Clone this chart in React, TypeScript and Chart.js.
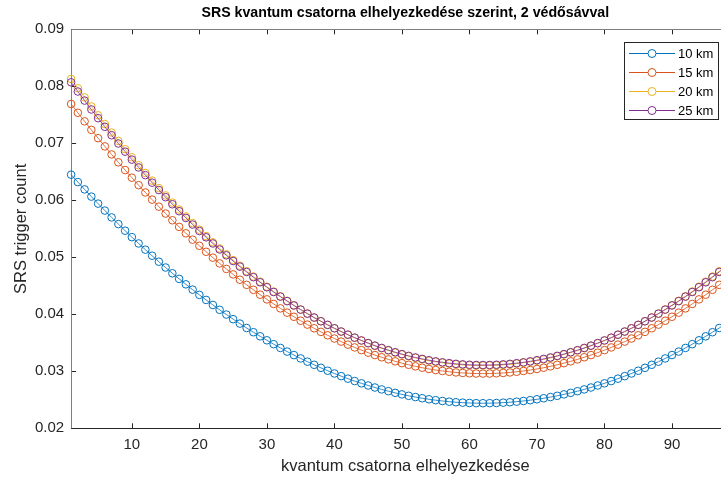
import { useEffect, useRef } from "react";
import { Chart, registerables } from "chart.js";

Chart.register(...registerables);

const TITLE = "SRS kvantum csatorna elhelyezkedése szerint, 2 védősávval";
const X_LABEL = "kvantum csatorna elhelyezkedése";
const Y_LABEL = "SRS trigger count";

const CHANNELS: number[] = Array.from({ length: 100 }, (_, i) => i + 1);
const X_TICKS = [10, 20, 30, 40, 50, 60, 70, 80, 90, 100];
const Y_TICKS = [0.02, 0.03, 0.04, 0.05, 0.06, 0.07, 0.08, 0.09];

const SERIES_NAMES = ["10 km", "15 km", "20 km", "25 km"];
const SERIES_COLORS = ["#0072BD", "#D95319", "#EDB120", "#7E2F8E"];

const KM10 = [
  0.0645, 0.0632, 0.06192, 0.06065, 0.05942, 0.0582, 0.057, 0.05583, 0.05467, 0.05354,
  0.05243, 0.05134, 0.05028, 0.04923, 0.04821, 0.0472, 0.04622, 0.04526, 0.04433, 0.04341,
  0.04252, 0.04164, 0.04079, 0.03996, 0.03915, 0.03837, 0.0376, 0.03686, 0.03614, 0.03544,
  0.03476, 0.0341, 0.03346, 0.03285, 0.03226, 0.03169, 0.03114, 0.03061, 0.0301, 0.02962,
  0.02915, 0.02871, 0.02829, 0.02789, 0.02751, 0.02716, 0.02682, 0.02651, 0.02622, 0.02595,
  0.0257, 0.02548, 0.02527, 0.02509, 0.02493, 0.02479, 0.02467, 0.02457, 0.0245, 0.02444,
  0.02441, 0.0244, 0.02441, 0.02444, 0.0245, 0.02457, 0.02467, 0.02479, 0.02493, 0.02509,
  0.02527, 0.02548, 0.0257, 0.02595, 0.02622, 0.02651, 0.02682, 0.02716, 0.02751, 0.02789,
  0.02829, 0.02871, 0.02915, 0.02962, 0.0301, 0.03061, 0.03114, 0.03169, 0.03226, 0.03285,
  0.03346, 0.0341, 0.03476, 0.03544, 0.03614, 0.03686, 0.0376, 0.03837, 0.03915, 0.03996,
];

const KM15 = [
  0.0769, 0.07536, 0.07385, 0.07236, 0.0709, 0.06946, 0.06805, 0.06667, 0.06531, 0.06397,
  0.06266, 0.06138, 0.06012, 0.05889, 0.05768, 0.0565, 0.05534, 0.05421, 0.0531, 0.05202,
  0.05097, 0.04994, 0.04893, 0.04796, 0.047, 0.04607, 0.04517, 0.0443, 0.04344, 0.04262,
  0.04182, 0.04104, 0.04029, 0.03957, 0.03887, 0.03819, 0.03755, 0.03692, 0.03632, 0.03575,
  0.03521, 0.03468, 0.03419, 0.03372, 0.03327, 0.03285, 0.03246, 0.03209, 0.03175, 0.03143,
  0.03114, 0.03087, 0.03063, 0.03041, 0.03022, 0.03006, 0.02992, 0.0298, 0.02971, 0.02965,
  0.02961, 0.0296, 0.02961, 0.02965, 0.02971, 0.0298, 0.02992, 0.03006, 0.03022, 0.03041,
  0.03063, 0.03087, 0.03114, 0.03143, 0.03175, 0.03209, 0.03246, 0.03285, 0.03327, 0.03372,
  0.03419, 0.03468, 0.03521, 0.03575, 0.03632, 0.03692, 0.03755, 0.03819, 0.03887, 0.03957,
  0.04029, 0.04104, 0.04182, 0.04262, 0.04344, 0.0443, 0.04517, 0.04607, 0.047, 0.04796,
];

const KM20 = [
  0.0813, 0.07966, 0.07806, 0.07647, 0.07492, 0.07339, 0.07189, 0.07042, 0.06897, 0.06755,
  0.06616, 0.0648, 0.06346, 0.06215, 0.06086, 0.0596, 0.05837, 0.05717, 0.056, 0.05485,
  0.05372, 0.05263, 0.05156, 0.05052, 0.04951, 0.04852, 0.04756, 0.04663, 0.04572, 0.04484,
  0.04399, 0.04317, 0.04237, 0.0416, 0.04085, 0.04014, 0.03945, 0.03879, 0.03815, 0.03754,
  0.03696, 0.03641, 0.03588, 0.03538, 0.03491, 0.03446, 0.03404, 0.03365, 0.03328, 0.03295,
  0.03264, 0.03235, 0.03209, 0.03186, 0.03166, 0.03149, 0.03134, 0.03122, 0.03112, 0.03105,
  0.03101, 0.031, 0.03101, 0.03105, 0.03112, 0.03122, 0.03134, 0.03149, 0.03166, 0.03186,
  0.03209, 0.03235, 0.03264, 0.03295, 0.03328, 0.03365, 0.03404, 0.03446, 0.03491, 0.03538,
  0.03588, 0.03641, 0.03696, 0.03754, 0.03815, 0.03879, 0.03945, 0.04014, 0.04085, 0.0416,
  0.04237, 0.04317, 0.04399, 0.04484, 0.04572, 0.04663, 0.04756, 0.04852, 0.04951, 0.05052,
];

const KM25 = [
  0.0807, 0.07909, 0.0775, 0.07594, 0.07441, 0.0729, 0.07142, 0.06997, 0.06854, 0.06714,
  0.06577, 0.06442, 0.0631, 0.06181, 0.06055, 0.05931, 0.05809, 0.05691, 0.05575, 0.05461,
  0.05351, 0.05243, 0.05137, 0.05035, 0.04935, 0.04837, 0.04743, 0.04651, 0.04562, 0.04475,
  0.04391, 0.0431, 0.04231, 0.04155, 0.04082, 0.04011, 0.03943, 0.03878, 0.03815, 0.03755,
  0.03698, 0.03643, 0.03591, 0.03542, 0.03495, 0.03451, 0.0341, 0.03371, 0.03335, 0.03302,
  0.03271, 0.03243, 0.03218, 0.03195, 0.03175, 0.03158, 0.03143, 0.03131, 0.03122, 0.03115,
  0.03111, 0.0311, 0.03111, 0.03115, 0.03122, 0.03131, 0.03143, 0.03158, 0.03175, 0.03195,
  0.03218, 0.03243, 0.03271, 0.03302, 0.03335, 0.03371, 0.0341, 0.03451, 0.03495, 0.03542,
  0.03591, 0.03643, 0.03698, 0.03755, 0.03815, 0.03878, 0.03943, 0.04011, 0.04082, 0.04155,
  0.04231, 0.0431, 0.04391, 0.04475, 0.04562, 0.04651, 0.04743, 0.04837, 0.04935, 0.05035,
];

const SERIES = [KM10, KM15, KM20, KM25];

const FONT = "'Liberation Sans', Arial, Helvetica, sans-serif";
const CANVAS_W = 760;
const CANVAS_H = 477;

const framePlugin = {
  id: "matlabFrame",
  beforeDatasetsDraw(chart: any) {
    const { ctx, chartArea: a, scales } = chart;
    ctx.save();
    ctx.lineWidth = 1;
    ctx.strokeStyle = "#262626";
    const seg = (x1: number, y1: number, x2: number, y2: number) => {
      ctx.beginPath();
      ctx.moveTo(x1, y1);
      ctx.lineTo(x2, y2);
      ctx.stroke();
    };
    X_TICKS.forEach((v) => {
      const px = Math.round(scales.x.getPixelForValue(v)) + 0.5;
      seg(px, a.bottom, px, a.bottom - 5);
      seg(px, a.top, px, a.top + 5);
    });
    Y_TICKS.forEach((v) => {
      const py = Math.round(scales.y.getPixelForValue(v)) + 0.5;
      seg(a.left, py, a.left + 5, py);
      seg(a.right, py, a.right - 5, py);
    });
    const l = Math.round(a.left) + 0.5;
    const r = Math.round(a.right) + 0.5;
    const t = Math.round(a.top) + 0.5;
    const b = Math.round(a.bottom) + 0.5;
    ctx.strokeStyle = "#7f7f7f";
    seg(l, t, l, b);
    seg(l, t, r, t);
    seg(r, t, r, b);
    ctx.strokeStyle = "#262626";
    seg(l, b, r, b);
    ctx.restore();
  },
};

const legendPlugin = {
  id: "matlabLegend",
  afterDraw(chart: any) {
    const { ctx } = chart;
    const bx = 624.5;
    const by = 42.5;
    const bw = 94;
    const bh = 77;
    ctx.save();
    ctx.fillStyle = "#ffffff";
    ctx.fillRect(bx, by, bw, bh);
    ctx.strokeStyle = "#262626";
    ctx.lineWidth = 1;
    ctx.strokeRect(bx, by, bw, bh);
    ctx.font = `13px ${FONT}`;
    ctx.textBaseline = "middle";
    ctx.textAlign = "left";
    SERIES_NAMES.forEach((name, i) => {
      const y = by + 11 + i * 19;
      ctx.strokeStyle = SERIES_COLORS[i];
      ctx.lineWidth = 1;
      ctx.beginPath();
      ctx.moveTo(629, y);
      ctx.lineTo(675, y);
      ctx.stroke();
      ctx.beginPath();
      ctx.arc(652, y, 4, 0, Math.PI * 2);
      ctx.fillStyle = "#ffffff";
      ctx.fill();
      ctx.stroke();
      ctx.fillStyle = "#000000";
      ctx.fillText(name, 678, y + 0.5);
    });
    ctx.restore();
  },
};

export default function App() {
  const ref = useRef<HTMLCanvasElement | null>(null);

  useEffect(() => {
    if (!ref.current) return;
    const datasets = SERIES.map((vals, i) => ({
      label: SERIES_NAMES[i],
      data: CHANNELS.map((x, j) => ({ x, y: vals[j] })),
      borderColor: SERIES_COLORS[i],
      backgroundColor: SERIES_COLORS[i],
      pointBorderColor: SERIES_COLORS[i],
      pointBackgroundColor: "rgba(255,255,255,0)",
      pointRadius: 3.8,
      pointBorderWidth: 1,
      borderWidth: 0.8,
      tension: 0,
      clip: false as any,
      order: 3 - i,
    }));

    const chart = new Chart(ref.current, {
      type: "line",
      data: { datasets },
      plugins: [framePlugin, legendPlugin],
      options: {
        responsive: false,
        animation: false,
        devicePixelRatio: 1,
        layout: { padding: { left: 0, top: 0, right: CANVAS_W - 745, bottom: 0 } },
        plugins: {
          legend: { display: false },
          tooltip: { enabled: false },
          title: {
            display: true,
            text: TITLE,
            fullSize: false,
            color: "#000000",
            font: { family: FONT, size: 14.2, weight: "bold" },
            padding: { top: 5, bottom: 7.3 },
          },
        },
        scales: {
          x: {
            type: "linear",
            min: 1,
            max: 100,
            grid: { display: false, drawTicks: false },
            border: { display: false },
            afterBuildTicks: (s: any) => {
              s.ticks = X_TICKS.map((v) => ({ value: v }));
            },
            afterFit: (s: any) => {
              s.height = 48.7;
            },
            ticks: {
              autoSkip: false,
              maxRotation: 0,
              padding: 8,
              color: "#262626",
              font: { family: FONT, size: 15 },
              callback: (v: any) => String(v),
            },
            title: {
              display: true,
              text: X_LABEL,
              color: "#262626",
              font: { family: FONT, size: 16.5 },
              padding: { top: 0, bottom: 1.1 },
            },
          },
          y: {
            type: "linear",
            min: 0.02,
            max: 0.09,
            grid: { display: false, drawTicks: false },
            border: { display: false },
            afterBuildTicks: (s: any) => {
              s.ticks = Y_TICKS.map((v) => ({ value: v }));
            },
            afterFit: (s: any) => {
              s.width = 71.1;
            },
            ticks: {
              autoSkip: false,
              padding: 7,
              color: "#262626",
              font: { family: FONT, size: 15 },
              callback: (v: any) => Number(v).toFixed(2),
            },
            title: {
              display: true,
              text: Y_LABEL,
              color: "#262626",
              font: { family: FONT, size: 16.5 },
              padding: { top: 12, bottom: 0 },
            },
          },
        },
      } as any,
    });
    return () => chart.destroy();
  }, []);

  return (
    <div
      style={{
        position: "fixed",
        left: 0,
        top: 0,
        width: 721,
        height: 477,
        overflow: "hidden",
        background: "#ffffff",
      }}
    >
      <canvas ref={ref} width={CANVAS_W} height={CANVAS_H} style={{ display: "block" }} />
    </div>
  );
}
